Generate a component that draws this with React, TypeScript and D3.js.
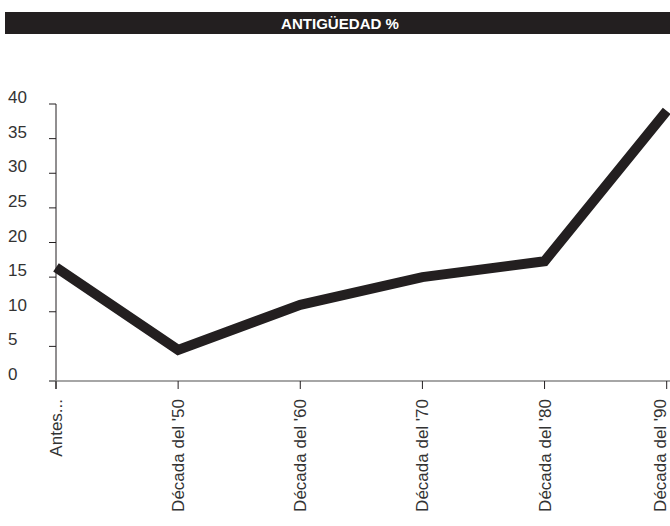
import React from "react";
import * as d3 from "d3";

const categories = ["Antes...", "Década del '50", "Década del '60", "Década del '70", "Década del '80", "Década del '90"];
const values = [16.4, 4.5, 11, 15, 17.3, 39];
const yTicks = [0, 5, 10, 15, 20, 25, 30, 35, 40];
const title = "ANTIGÜEDAD %";

export default function App() {
  const W = 670, H = 526;
  const x = d3.scalePoint<string>().domain(categories).range([56, 666.7]);
  const y = d3.scaleLinear().domain([0, 40]).range([381, 104]);
  const line = d3.line<number>().x((_, i) => x(categories[i])!).y((d) => y(d));
  const font = "'Liberation Sans', Arial, Helvetica, sans-serif";
  return (
    <svg width={W} height={H} style={{ position: "absolute", left: 0, top: 0 }}>
      <rect x={5} y={12} width={665} height={22} fill="#231f20" />
      <text x={340} y={28.5} fill="#fff" fontFamily={font} fontWeight="bold" fontSize={15}
        textAnchor="middle" textLength={118} lengthAdjust="spacingAndGlyphs">{title}</text>
      {/* y axis */}
      <line x1={56} x2={56} y1={104} y2={389} stroke="#231f20" strokeWidth={1} />
      {yTicks.map((t) => (
        <g key={t}>
          <line x1={49} x2={56} y1={y(t)} y2={y(t)} stroke="#231f20" strokeWidth={1} />
          <text x={8} y={y(t) - 1} fontFamily={font} fontSize={17} fill="#333">{t}</text>
        </g>
      ))}
      {/* x axis */}
      <line x1={49} x2={670} y1={381} y2={381} stroke="#888" strokeWidth={1.5} />
      {categories.map((c) => (
        <g key={c}>
          <line x1={x(c)!} x2={x(c)!} y1={381} y2={389} stroke="#231f20" strokeWidth={1} />
          <text transform={`translate(${Math.min(x(c)! + 6, 666)},399) rotate(-90)`} textAnchor="end"
            fontFamily={font} fontSize={17} fill="#333">{c}</text>
        </g>
      ))}
      <path d={line(values)!} fill="none" stroke="#231f20" strokeWidth={10} strokeLinejoin="miter" />
    </svg>
  );
}
